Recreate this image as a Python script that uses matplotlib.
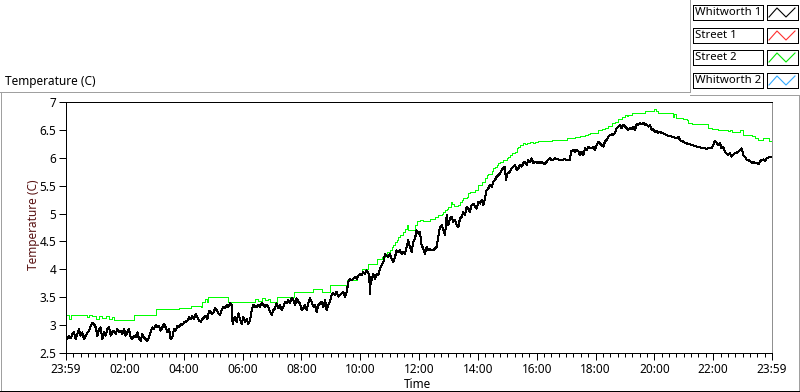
import matplotlib
matplotlib.use('Agg')
import matplotlib.pyplot as plt
from matplotlib.lines import Line2D
from matplotlib.patches import Rectangle
from matplotlib.transforms import Affine2D
from matplotlib.ticker import FixedLocator, MultipleLocator

plt.rcParams['font.family'] = ['Noto Sans', 'DejaVu Sans']

# 数据: 时间(分钟, 从 23:59 起) 与温度
black_time = [
    0, 2.7, 6.1, 9.5, 12.9, 16.3, 19.7, 23.1, 26.5, 29.9, 33.3, 36.7, 40.1, 43.5, 46.9, 50.3,
    53.7, 57.1, 60.5, 63.9, 67.3, 70.7, 74.1, 77.5, 80.9, 84.3, 87.7, 91.1, 94.5, 97.9, 101.3,
    104.7, 108.1, 111.5, 114.9, 118.3, 121.7, 125.1, 128.5, 131.9, 135.3, 138.7, 142.1, 145.5,
    148.9, 152.3, 155.7, 159.1, 162.5, 165.9, 169.3, 172.7, 176.1, 179.5, 182.9, 186.3, 189.7,
    193.1, 196.5, 199.9, 203.3, 206.7, 210.1, 213.5, 216.9, 220.3, 223.7, 227.1, 230.5, 233.9,
    237.3, 240.7, 244.1, 247.5, 250.9, 254.3, 257.7, 261.1, 264.5, 267.9, 271.3, 274.7, 278.1,
    281.5, 284.9, 288.3, 291.7, 295.1, 298.5, 301.9,
    303.9, 307.3, 310.7, 314.1, 317.5, 320.9, 324.3, 327.7, 331.1, 334.5, 337.9, 339.9, 341.3,
    344.7, 348.1, 351.5, 354.9, 358.3, 361.7, 365.1, 368.5, 371.9, 375.3, 378.7, 382.1, 385.5,
    388.9, 392.3, 395.7, 399.1, 402.5, 405.9, 409.3, 412.7, 416.1, 419.5, 422.9, 426.3, 429.7,
    433.1, 436.5, 439.9, 443.3, 446.7, 450.1, 453.5, 456.9, 460.3, 463.7, 467.1, 470.5, 473.9,
    477.3, 480.7, 484.1, 487.5, 490.9, 494.3, 497.7, 501.1, 504.5, 507.9, 511.3, 514.7, 518.1,
    521.5, 524.9, 528.3, 531.7, 535.1, 538.5, 541.9, 545.3, 548.7, 552.1, 555.5, 558.9, 562.3,
    565.7, 569.1,
    572.4, 575.8, 579.2, 582.6, 586.0, 589.4, 592.8, 596.2, 599.6, 603.0, 606.4, 609.8, 613.2,
    616.6, 618.6, 620.0, 622.0, 623.4, 626.8, 630.2, 633.6, 637.0, 640.4, 643.8, 647.2, 650.6,
    654.0, 657.4, 660.8, 664.2, 667.6, 671.0, 674.4, 677.8, 681.2, 684.6, 688.0, 691.4, 694.8,
    698.2, 701.6, 705.0, 708.4, 711.8, 715.2, 718.6, 722.0, 725.4, 728.8, 732.2, 735.6, 739.0,
    742.4, 745.8, 749.2, 752.6, 756.0, 759.4, 762.8, 766.2, 769.6, 773.0, 776.4, 779.8, 783.2,
    786.6, 790.0, 793.4, 796.8, 800.2, 803.6, 807.0, 810.4, 813.8, 817.2, 820.6, 824.0, 827.4,
    830.8, 834.2, 837.6, 841.0, 844.4, 847.8, 851.2, 854.6,
    857.9, 861.3, 864.7, 868.1, 871.5, 874.9, 878.3, 881.7, 885.1, 888.5, 891.9, 895.3, 897.3,
    900.1, 902.1, 905.5, 908.9, 912.3, 915.7, 919.1, 922.5, 925.9, 929.3, 932.7, 936.1, 939.5,
    942.9, 946.3, 949.7, 953.1, 956.5, 959.9, 963.3, 966.7, 970.1, 973.5, 976.9, 980.3, 983.7,
    987.1, 990.5, 993.9, 997.3, 1000.7, 1004.1, 1007.5, 1010.9, 1014.3, 1017.7, 1021.1, 1024.5,
    1027.9, 1029.9, 1034.7, 1038.1, 1041.5, 1044.9, 1048.3, 1051.7, 1055.1, 1058.5, 1061.9,
    1065.3, 1068.7, 1072.1, 1075.5, 1078.9, 1082.3, 1085.7, 1089.1, 1092.5, 1095.9, 1099.3,
    1102.7, 1106.1, 1109.5, 1112.9, 1116.3, 1119.7, 1123.1, 1126.5, 1129.9, 1133.3, 1136.7,
    1140.1,
    1143.4, 1146.8, 1150.2, 1153.6, 1157.0, 1160.4, 1163.8, 1167.2, 1170.6, 1174.0, 1177.4,
    1180.8, 1184.2, 1187.6, 1191.0, 1194.4, 1197.8, 1201.2, 1204.6, 1208.0, 1211.4, 1214.8,
    1218.2, 1221.6, 1225.0, 1228.4, 1231.8, 1235.2, 1238.6, 1242.0, 1245.4, 1248.8, 1252.2,
    1255.6, 1259.0, 1262.4, 1265.8, 1269.2, 1272.6, 1276.0, 1279.4, 1282.8, 1286.2, 1289.6,
    1293.0, 1296.4, 1299.8, 1303.2, 1306.6, 1310.0, 1313.4, 1316.8, 1320.2, 1323.6, 1327.0,
    1330.4, 1333.8, 1337.2, 1340.6, 1344.0, 1347.4, 1350.8, 1354.2, 1357.6, 1361.0, 1364.4,
    1367.8, 1371.2, 1374.6, 1378.0, 1381.4, 1384.8, 1388.2, 1391.6, 1395.0, 1398.4, 1401.8,
    1405.2, 1408.6, 1412.0, 1415.4, 1418.8, 1422.2, 1425.6, 1429.0, 1432.4, 1435.8, 1439.2,
]
black_temp = [
    2.73,
    2.75, 2.81, 2.76, 2.84, 2.87, 2.75, 2.84, 2.93, 2.81, 2.87,
    2.75, 2.81, 2.86, 2.90, 2.99, 3.04, 3.02, 2.96, 2.81, 2.93,
    2.96, 2.75, 2.87, 2.81, 2.93, 2.96, 2.81, 2.87, 2.90, 2.84,
    2.93, 2.87, 2.90, 2.84, 2.93, 2.81, 2.87, 2.93, 2.78, 2.75,
    2.81, 2.78, 2.87, 2.75, 2.72, 2.84, 2.78, 2.75, 2.72, 2.78,
    2.87, 2.96, 2.93, 3.00, 2.96, 2.99, 2.90, 2.96, 3.02, 2.96,
    2.87, 2.93, 2.75, 2.78, 2.93, 2.90, 2.99, 2.96, 3.02, 3.00,
    3.05, 3.06, 3.08, 3.14, 3.11, 3.16, 3.11, 3.20, 3.14, 3.08,
    3.06, 3.11, 3.14, 3.17, 3.11, 3.26, 3.23, 3.20, 3.24,
    3.30, 3.27, 3.21, 3.18, 3.27, 3.33, 3.30, 3.36, 3.33, 3.39, 3.36,
    3.02,
    3.08, 3.15, 3.05, 3.21, 3.11, 3.02, 3.15, 3.05, 3.11, 3.02, 3.08,
    3.27, 3.36, 3.33, 3.33, 3.36, 3.33, 3.39, 3.36, 3.33, 3.36, 3.33,
    3.24, 3.18, 3.27, 3.30, 3.39, 3.30, 3.36, 3.27, 3.33, 3.42, 3.39,
    3.45, 3.39, 3.48, 3.45, 3.36, 3.48, 3.42, 3.39, 3.27, 3.30, 3.36,
    3.27, 3.39, 3.48, 3.42, 3.33, 3.36, 3.24, 3.36, 3.39, 3.42, 3.33,
    3.45, 3.27, 3.36, 3.42, 3.54, 3.57, 3.54, 3.60, 3.51, 3.54, 3.57,
    3.60, 3.51,
    3.59, 3.77, 3.83, 3.80, 3.83, 3.86, 3.83, 3.89, 3.92, 3.89, 3.95, 3.92, 3.98, 3.95,
    3.86, 3.56, 3.86,
    3.80, 3.92, 3.83, 3.92, 3.89, 4.01, 4.07, 4.13, 4.28,
    4.25, 4.22, 4.28, 4.19, 4.13, 4.22, 4.34, 4.31, 4.34,
    4.28, 4.31, 4.28, 4.40, 4.52, 4.40, 4.31, 4.49, 4.55,
    4.70, 4.64, 4.67, 4.43, 4.37, 4.28, 4.40, 4.34, 4.37,
    4.34, 4.34, 4.37, 4.40, 4.58, 4.76, 4.79, 4.70, 4.61,
    4.97, 4.79, 4.91, 4.94, 4.85, 4.88, 4.79, 4.76, 4.91,
    4.94, 5.03, 4.97, 5.12, 5.09, 5.03, 5.15, 5.18, 5.12,
    5.09, 5.21, 5.18, 5.24, 5.15, 5.27,
    5.42, 5.45, 5.51, 5.48, 5.57, 5.60, 5.66, 5.69, 5.72, 5.78, 5.81, 5.84,
    5.60, 5.72,
    5.72, 5.75, 5.81, 5.84, 5.87, 5.78, 5.81, 5.87, 5.84,
    5.90, 5.93, 5.87, 5.96, 5.93, 5.99, 5.90, 5.93, 5.91,
    5.93, 5.90, 5.93, 5.91, 5.88, 5.93, 5.97, 5.99, 5.96,
    5.97, 5.99, 5.97, 5.97, 5.96, 5.96, 5.97, 5.97, 5.96,
    5.96, 5.96,
    6.11,
    6.14, 6.11, 6.14, 6.12, 6.05, 6.11, 6.05, 6.17, 6.14,
    6.20, 6.18, 6.17, 6.20, 6.14, 6.23, 6.29, 6.26, 6.23,
    6.20, 6.29, 6.32, 6.38, 6.41, 6.42, 6.41, 6.44, 6.53,
    6.56, 6.59, 6.53, 6.59, 6.56,
    6.53, 6.50, 6.54, 6.51, 6.56, 6.50, 6.60, 6.59, 6.62, 6.60,
    6.63, 6.59, 6.60, 6.56, 6.59, 6.50, 6.51, 6.47, 6.48, 6.45,
    6.47, 6.44, 6.44, 6.42, 6.41, 6.39, 6.39, 6.38, 6.37, 6.36,
    6.35, 6.38, 6.32, 6.30, 6.29, 6.27, 6.26, 6.24, 6.24, 6.23,
    6.22, 6.21, 6.20, 6.20, 6.19, 6.18, 6.17, 6.17, 6.16, 6.17,
    6.17, 6.18, 6.23, 6.30, 6.27, 6.23, 6.26, 6.17, 6.20, 6.11,
    6.08, 6.05, 6.08, 6.02, 6.06, 6.08, 6.09, 6.11, 6.14, 6.17,
    6.05, 6.02, 5.97, 5.96, 5.94, 5.91, 5.93, 5.90, 5.91, 5.88,
    5.93, 5.96, 5.97, 5.94, 5.99, 6.00, 6.02, 6.02,
]

green_time = [
    0, 2.7, 6.1, 9.5, 36.7, 43.5, 46.9, 53.7, 60.5, 67.3, 74.1, 80.9, 87.7, 94.5, 97.9, 135.3,
    138.7, 179.5, 182.9, 227.1, 230.5, 250.9, 254.3, 274.7, 278.1, 282.9, 286.9, 290.3, 327.7,
    331.1, 382.1, 385.5, 392.3, 399.1, 405.9, 412.7, 416.1, 426.3, 429.7, 463.7, 465.7, 501.1,
    504.5, 518.1, 521.5, 535.1, 538.5, 569.1, 572.5, 589.4, 592.8, 599.6, 603.0, 613.2, 616.6,
    630.2, 633.6, 640.4, 643.8, 650.6, 654.0, 660.8, 664.2, 667.6, 671.0, 674.4, 677.8, 681.2,
    688.0, 691.4, 694.8, 698.2, 708.4, 711.8, 715.2, 722.0, 728.8, 742.4, 752.6, 759.4, 766.2,
    769.6, 773.0, 776.4, 779.8, 785.2, 787.9, 791.4, 800.2, 803.6, 807.0, 810.4, 817.2, 820.6,
    824.0, 830.8, 834.2, 841.0, 847.8, 854.6, 858.0, 861.4, 868.2, 871.5, 874.9, 878.3, 881.7,
    885.1, 891.9, 898.7, 902.1, 905.5, 908.9, 915.7, 919.1, 922.5, 925.9, 932.7, 936.1, 939.5,
    946.3, 953.1, 956.5, 963.3, 990.5, 1017.7, 1021.1, 1034.7, 1038.1, 1048.3, 1058.5, 1065.3,
    1068.7, 1082.3, 1085.7, 1092.5, 1099.3, 1106.1, 1112.9, 1119.7, 1126.5, 1133.3, 1140.1,
    1143.4, 1146.8, 1153.6, 1167.2, 1180.8, 1194.4, 1199.8, 1202.6, 1208.0, 1235.2, 1237.2,
    1240.6, 1243.4, 1248.8, 1259.0, 1265.8, 1269.2, 1276.0, 1306.6, 1310.0, 1316.8, 1330.4,
    1347.4, 1350.8, 1354.2, 1357.6, 1371.2, 1374.6, 1381.4, 1391.6, 1398.4, 1405.2, 1412.0,
    1418.8, 1422.2, 1425.6, 1431.0, 1433.8, 1440,
]
green_temp = [
    3.18, 3.18, 3.11, 3.18, 3.19, 3.14, 3.18, 3.16, 3.11, 3.16, 3.12, 3.17, 3.11, 3.14, 3.10, 3.10,
    3.18, 3.18, 3.28, 3.29, 3.31, 3.31, 3.34, 3.33, 3.42, 3.47, 3.42, 3.51, 3.51,
    3.42, 3.42, 3.46, 3.43, 3.48, 3.45, 3.47, 3.42, 3.42, 3.51, 3.51, 3.60, 3.60,
    3.64, 3.64, 3.60, 3.60, 3.72, 3.72, 3.81, 3.81, 3.89, 3.92, 4.01, 4.01, 4.10,
    4.10, 4.19, 4.19, 4.23, 4.25, 4.31, 4.34, 4.40, 4.43, 4.49, 4.53, 4.58, 4.61,
    4.67, 4.73, 4.79, 4.70, 4.70, 4.79, 4.87, 4.89, 4.87, 4.91, 4.94, 4.97, 5.00,
    5.03, 5.06, 5.09, 5.12, 5.21, 5.18, 5.13, 5.15, 5.21, 5.24, 5.27, 5.30, 5.36,
    5.39, 5.39, 5.42, 5.51, 5.57, 5.63, 5.69, 5.71, 5.77, 5.81, 5.84, 5.87, 5.90,
    5.93, 5.96, 5.99, 6.02, 6.05, 6.08, 6.11, 6.17, 6.20, 6.23, 6.26, 6.24, 6.27,
    6.29, 6.27, 6.29, 6.30, 6.31, 6.32, 6.35, 6.35, 6.38, 6.39, 6.41, 6.42,
    6.44, 6.44, 6.50, 6.51, 6.54, 6.57, 6.62, 6.65, 6.69, 6.74, 6.77,
    6.75, 6.77, 6.80, 6.81, 6.83, 6.84, 6.87, 6.83, 6.81, 6.81, 6.74,
    6.78, 6.72, 6.71, 6.69, 6.68, 6.63, 6.60, 6.60, 6.53, 6.51, 6.50,
    6.50, 6.48, 6.50, 6.47, 6.47, 6.50, 6.41, 6.41, 6.39, 6.35, 6.32,
    6.31, 6.35, 6.36, 6.36, 6.30, 6.30,
]

legend_names = ['Whitworth 1', 'Street 1', 'Street 2', 'Whitworth 2']
legend_colors = ['#000000', '#ff3030', '#00e600', '#33aaff']

x_ticks = [0, 120, 240, 360, 480, 600, 720, 840, 960, 1080, 1200, 1320, 1440]
x_labels = ['23:59', '02:00', '04:00', '06:00', '08:00', '10:00', '12:00',
            '14:00', '16:00', '18:00', '20:00', '22:00', '23:59']
y_ticks = [2.5, 3, 3.5, 4, 4.5, 5, 5.5, 6, 6.5, 7]

W, H = 800, 392
fig = plt.figure(figsize=(W / 100, H / 100), dpi=100)
# 像素坐标 (左上角为原点)
px = Affine2D().scale(1 / W, -1 / H).translate(0, 1) + fig.transFigure

# 外框
frame_lines = [
    ([0, 690], [92, 92], '#a0a0a0'),
    ([690, 690], [0, 92], '#a0a0a0'),
    ([690, 800], [95, 95], '#a0a0a0'),
    ([1, 1], [92, 392], '#a0a0a0'),
    ([799, 799], [95, 392], '#a0a0a0'),
    ([0, 800], [391, 391], '#000000'),
]
for xs, ys, c in frame_lines:
    fig.add_artist(Line2D(xs, ys, color=c, lw=0.72, transform=px, antialiased=False))

# 图例
legend_top = [5, 28, 50, 73]
for name, color, y0 in zip(legend_names, legend_colors, legend_top):
    fig.add_artist(Rectangle((693, y0), 70, 15, transform=px, facecolor='white',
                             edgecolor='black', lw=0.72, antialiased=False))
    fig.text(695 / W, 1 - (y0 + 7.5) / H, name, fontsize=8.2, va='center', ha='left')
    fig.add_artist(Rectangle((767, y0), 31, 15, transform=px, facecolor='white',
                             edgecolor='black', lw=0.72, antialiased=False))
    fig.add_artist(Line2D([769, 777, 786, 795], [y0 + 12, y0 + 3, y0 + 12, y0 + 3],
                          color=color, lw=0.8, transform=px))

fig.text(5 / W, 1 - 81 / H, 'Temperature (C)', fontsize=8.5, va='center', ha='left')
fig.text(33 / W, 1 - 225 / H, 'Temperature (C)', fontsize=8.5, rotation=90,
         va='center', ha='center', color='#5a1414')
fig.text(418 / W, 1 - 384 / H, 'Time', fontsize=8.5, va='center', ha='center')

# 绘图区
ax = fig.add_axes([66 / W, 1 - 353 / H, 706 / W, 251 / H])
ax.plot(green_time, green_temp, color='#00ff00', lw=0.72, drawstyle='steps-post',
        antialiased=False)
ax.plot(black_time, black_temp, color='black', lw=0.72, antialiased=False)

ax.set_xlim(0, 1440)
ax.set_ylim(2.5, 7)
ax.xaxis.set_major_locator(FixedLocator(x_ticks))
ax.set_xticklabels(x_labels)
ax.xaxis.set_minor_locator(MultipleLocator(15))
ax.set_yticks(y_ticks)
ax.set_yticklabels(['{:g}'.format(v) for v in y_ticks])
ax.tick_params(axis='both', which='major', length=5, width=0.72, labelsize=8.5, pad=2)
ax.tick_params(axis='x', which='minor', length=3, width=0.72)
for side in ['left', 'top', 'bottom']:
    ax.spines[side].set_color('black')
    ax.spines[side].set_linewidth(0.72)
ax.spines['right'].set_color('#909090')
ax.spines['right'].set_linewidth(0.72)

fig.savefig('out.png', dpi=100)
